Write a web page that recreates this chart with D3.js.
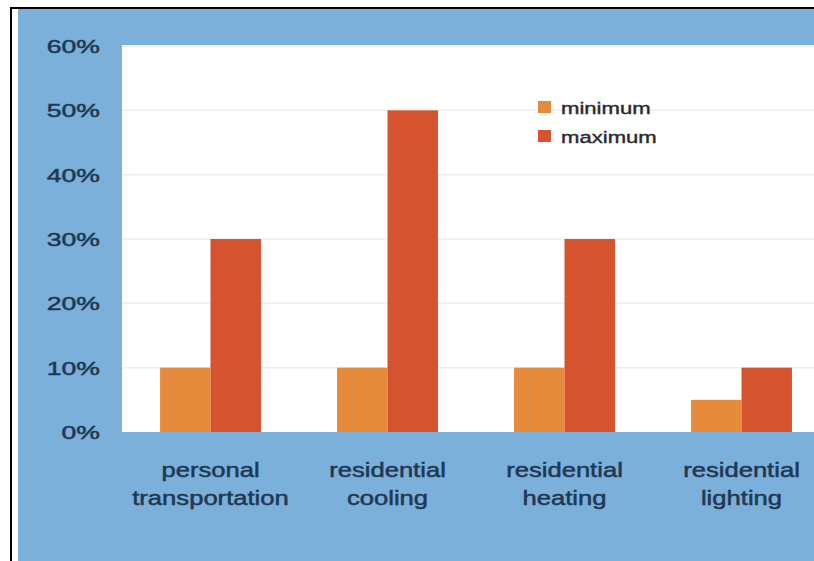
<!DOCTYPE html>
<html><head><meta charset="utf-8">
<script src="https://cdn.jsdelivr.net/npm/d3@7"></script>
<style>html,body{margin:0;padding:0;background:#fff;}svg{display:block;}</style>
</head><body>
<svg id="chart" width="814" height="561"></svg>
<script>
const categories = [["personal","transportation"],["residential","cooling"],["residential","heating"],["residential","lighting"]];
const seriesNames = ["minimum","maximum"];
const minimumValues = [10, 10, 10, 5];
const maximumValues = [30, 50, 30, 10];
const yTicks = [0, 10, 20, 30, 40, 50, 60];
const colors = ["#E68A3B", "#D6532F"];

const svg = d3.select("#chart");
const W = 814, H = 561;
const FONT = "Liberation Sans, Arial, sans-serif";
// frame
svg.append("rect").attr("x",18).attr("y",9).attr("width",W-18).attr("height",H-9).attr("fill","#7AB0DA");
svg.append("line").attr("x1",10).attr("x2",W).attr("y1",8).attr("y2",8).attr("stroke","#000").attr("stroke-width",2);
svg.append("line").attr("x1",11).attr("x2",11).attr("y1",7).attr("y2",H).attr("stroke","#000").attr("stroke-width",2);

const plot = {left:122, right:830, top:45, bottom:432};
const y = d3.scaleLinear().domain([0,60]).range([plot.bottom, 46]);
const x0 = d3.scaleBand().domain(categories.map((d,i)=>i)).range([plot.left, plot.right]).paddingInner(0.43).paddingOuter(0.215);
const x1 = d3.scaleBand().domain(seriesNames).range([0, x0.bandwidth()]);

// white plot area
svg.append("rect").attr("x",plot.left).attr("y",plot.top).attr("width",W-plot.left).attr("height",plot.bottom-plot.top).attr("fill","#fff");

// grid
svg.append("g").selectAll("line").data(yTicks.filter(t=>t>0)).join("line")
  .attr("x1",plot.left).attr("x2",W).attr("y1",d=>y(d)).attr("y2",d=>y(d))
  .attr("stroke","#eeeeee").attr("stroke-width",1.5);

// bars
const data = categories.map((c,i)=>({i, vals:[minimumValues[i], maximumValues[i]]}));
const groups = svg.append("g").selectAll("g").data(data).join("g")
  .attr("transform", d=>`translate(${x0(d.i)},0)`);
groups.selectAll("rect").data(d=>d.vals.map((v,k)=>({k,v}))).join("rect")
  .attr("x", d=>x1(seriesNames[d.k])).attr("width", x1.bandwidth())
  .attr("y", d=>y(d.v)).attr("height", d=>y(0)-y(d.v))
  .attr("fill", d=>colors[d.k]);

// y axis labels
const yAxis = d3.axisLeft(y).tickValues(yTicks).tickFormat(d=>d+"%").tickSize(0).tickPadding(0);
const ya = svg.append("g").attr("transform","translate(100,0)").call(yAxis);
ya.select(".domain").remove();
ya.selectAll(".tick").attr("transform", d=>`translate(0,${y(d)}) scale(1.4,1)`);
ya.selectAll(".tick text")
  .attr("x",0).attr("dy","0.36em")
  .attr("fill","#1F3852").attr("stroke","#1F3852").attr("stroke-width",0.5)
  .attr("font-family",FONT).attr("font-size",19);

// x labels
const xl = svg.append("g").selectAll("text").data(categories).join("text")
  .attr("transform",(d,i)=>`translate(${x0(i)+x0.bandwidth()/2},477) scale(1.22,1)`)
  .attr("text-anchor","middle").attr("fill","#1F3852").attr("stroke","#1F3852").attr("stroke-width",0.5)
  .attr("font-family",FONT).attr("font-size",21);
xl.selectAll("tspan").data(d=>d).join("tspan")
  .attr("x",0).attr("y",(d,k)=>k*28).text(d=>d);

// legend
const lg = svg.append("g").selectAll("g").data(seriesNames).join("g")
  .attr("transform",(d,k)=>`translate(538,${101 + k*29})`);
lg.append("rect").attr("width",13).attr("height",12).attr("fill",(d,k)=>colors[k]);
lg.append("text").attr("transform","translate(23,13) scale(1.3,1)")
  .attr("fill","#2a2a2a").attr("stroke","#2a2a2a").attr("stroke-width",0.4)
  .attr("font-family",FONT).attr("font-size",17).text(d=>d);
</script>
</body></html>
